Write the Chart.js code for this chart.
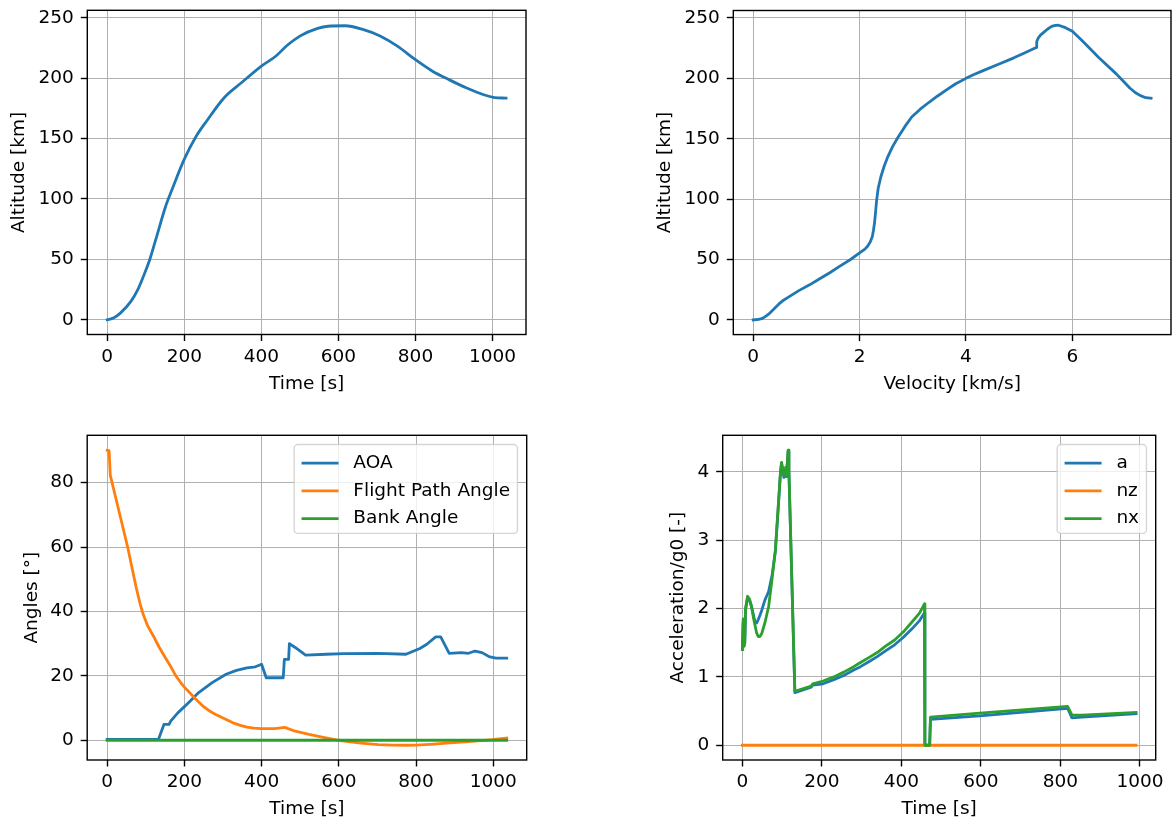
<!DOCTYPE html>
<html>
<head>
<meta charset="utf-8">
<script src="https://cdn.jsdelivr.net/npm/chart.js@4.4.1/dist/chart.umd.min.js"></script>
<style>
html,body{margin:0;padding:0;background:#fff;width:1172px;height:820px;overflow:hidden;}
.box{position:absolute;}
canvas{display:block;}
</style>
</head>
<body>
<div class="box" style="left:0px;top:0px"><canvas id="c1" width="560" height="410"></canvas></div>
<div class="box" style="left:620px;top:0px"><canvas id="c2" width="552" height="410"></canvas></div>
<div class="box" style="left:0px;top:410px"><canvas id="c3" width="560" height="410"></canvas></div>
<div class="box" style="left:620px;top:410px"><canvas id="c4" width="552" height="410"></canvas></div>
<script>
// ---------- data ----------
const timeAlt = [0, 16, 34, 61, 79, 97, 110, 128, 151, 169, 200, 232, 259, 304, 349, 400, 438, 465, 501, 546, 573, 618, 663, 708, 753, 798, 843, 888, 933, 977, 1005, 1035];
const altTime = [0, 1.4, 5.5, 15, 24.7, 38.5, 49.5, 68.7, 93.4, 108.5, 133, 152.5, 165, 184, 196.4, 210, 218.4, 226.6, 235, 241.2, 243, 243.4, 240.4, 235, 226.6, 215.7, 206, 198.6, 191.8, 186.3, 184, 183.5];

const velocity = [0, 0.08, 0.16, 0.22, 0.29, 0.38, 0.48, 0.57, 0.67, 0.85, 1.06, 1.25, 1.44, 1.63, 1.83, 2.0, 2.1, 2.15, 2.2, 2.24, 2.26, 2.28, 2.30, 2.32, 2.35, 2.40, 2.46, 2.53, 2.62, 2.72, 2.85, 2.98, 3.14, 3.30, 3.46, 3.62, 3.8, 4.0, 4.15, 4.3, 4.6, 4.9, 5.1, 5.32, 5.33, 5.36, 5.40, 5.45, 5.53, 5.61, 5.68, 5.74, 5.87, 6.0, 6.19, 6.5, 6.83, 6.95, 7.08, 7.18, 7.28, 7.38, 7.48];
const altVel = [0, 0.3, 1, 2.5, 4.7, 8.5, 13, 16.3, 19, 24, 29, 34, 39, 44.5, 50, 55.4, 58.6, 61, 64.5, 69, 74, 80, 89, 99, 109, 118.5, 127, 135, 143.5, 151, 160, 168, 174.5, 180, 185.2, 190, 195.3, 200, 203.2, 206, 211.5, 217, 221, 225.5, 230.5, 233.5, 235.8, 237.7, 240.7, 243, 243.9, 244, 242, 239, 231, 217, 203.5, 198, 192, 188.3, 185.7, 184, 183.5];

const tAoa = [0, 133, 147, 160, 165, 183, 210, 237, 272, 308, 335, 362, 384, 400, 412, 456, 459, 470, 472, 487, 514, 568, 613, 703, 774, 810, 828, 851, 864, 886, 918, 936, 953, 971, 989, 1007, 1035];
const aoa = [0.3, 0.3, 4.9, 4.9, 6.0, 8.5, 11.6, 14.8, 17.9, 20.5, 21.7, 22.5, 22.8, 23.6, 19.4, 19.4, 25.1, 25.1, 30.0, 28.8, 26.4, 26.7, 26.9, 27.0, 26.7, 28.5, 29.8, 32.1, 32.1, 27.0, 27.2, 27.0, 27.7, 27.2, 26.0, 25.5, 25.5];

const tFpa = [0, 5, 8, 30, 53, 75, 85, 93, 105, 120, 135, 150, 165, 178, 190, 200, 212, 223, 237, 250, 265, 281, 300, 326, 345, 362, 380, 398, 434, 460, 487, 523, 560, 600, 630, 658, 702, 740, 774, 800, 837, 880, 927, 960, 998, 1035];
const fpa = [90, 89.9, 82.3, 71.4, 60, 47.5, 42.5, 39.2, 35.5, 32.3, 28.8, 25.8, 22.8, 20, 18.0, 16.5, 15.0, 13.6, 11.9, 10.4, 9.1, 8.0, 6.9, 5.4, 4.6, 4.05, 3.75, 3.6, 3.6, 4.0, 2.8, 1.8, 0.9, 0, -0.5, -0.9, -1.35, -1.5, -1.55, -1.5, -1.25, -0.9, -0.5, -0.2, 0.2, 0.7];

const tBank = [0, 1035];
const bank = [0, 0];

const tAcc = [0, 2, 4, 6, 8, 13, 18, 23, 28, 32, 36, 40, 44, 49, 57, 66, 75, 83, 90, 96, 98.5, 104.5, 109, 111, 115, 117, 132, 173, 177, 203, 230, 255, 280, 297, 320, 340, 360, 383, 405, 426, 445, 458, 459, 471, 473, 597, 818, 829, 854, 990];
const accA = [1.40, 1.80, 1.45, 1.50, 1.98, 2.16, 2.12, 2.03, 1.90, 1.80, 1.79, 1.84, 1.90, 1.98, 2.13, 2.25, 2.50, 2.84, 3.45, 4.00, 4.12, 3.92, 4.05, 3.93, 4.30, 4.00, 0.77, 0.85, 0.88, 0.90, 0.96, 1.02, 1.10, 1.15, 1.23, 1.30, 1.38, 1.47, 1.58, 1.70, 1.82, 1.94, 0, 0, 0.38, 0.43, 0.54, 0.40, 0.41, 0.46];
const accNx = [1.40, 1.85, 1.45, 1.50, 2.00, 2.18, 2.14, 2.03, 1.86, 1.75, 1.64, 1.59, 1.59, 1.64, 1.80, 2.03, 2.45, 2.86, 3.49, 4.02, 4.14, 3.95, 4.07, 3.95, 4.32, 4.02, 0.79, 0.865, 0.90, 0.94, 1.00, 1.07, 1.15, 1.21, 1.29, 1.36, 1.45, 1.54, 1.66, 1.80, 1.93, 2.07, 0, 0, 0.41, 0.47, 0.57, 0.44, 0.44, 0.48];
const tNz = [0, 990];
const accNz = [0, 0];

const timeTicks = [0, 200, 400, 600, 800, 1000];
const velTicks = [0, 2, 4, 6];
const altTicks = [0, 50, 100, 150, 200, 250];
const angleTicks = [0, 20, 40, 60, 80];
const accTicks = [0, 1, 2, 3, 4];

// ---------- style ----------
const C0 = '#1f77b4', C1 = '#ff7f0e', C2 = '#2ca02c';
const FONT = 'DejaVu Sans';
const FS = 18.5;
const LW = 2.8;

function pts(xs, ys) { return xs.map((x, i) => ({ x: x, y: ys[i] })); }
function ds(label, xs, ys, color, order, smooth) {
  const d = { label: label, data: pts(xs, ys), borderColor: color, backgroundColor: color,
    borderWidth: LW, pointRadius: 0, pointHoverRadius: 0, tension: 0, fill: false,
    borderCapStyle: 'square', borderJoinStyle: 'round', order: order };
  if (smooth) d.cubicInterpolationMode = 'monotone';
  return d;
}

const framePlugin = {
  id: 'frame',
  afterDatasetsDraw(chart) {
    const a = chart.chartArea, ctx = chart.ctx;
    ctx.save();
    ctx.strokeStyle = '#000';
    ctx.lineWidth = 1.4;
    ctx.strokeRect(a.left, a.top, a.right - a.left, a.bottom - a.top);
    ctx.restore();
  }
};

const insetLegend = {
  id: 'insetLegend',
  afterDatasetsDraw(chart, args, opts) {
    if (!opts || !opts.show) return;
    const a = chart.chartArea, ctx = chart.ctx;
    ctx.save();
    ctx.font = FS + 'px "' + FONT + '"';
    const items = chart.data.datasets.map(d => ({ label: d.label, color: d.borderColor }));
    const textW = Math.max(...items.map(i => ctx.measureText(i.label).width));
    const pad = 0.4 * FS, handle = 2 * FS, htp = 0.8 * FS, rowH = 1.5 * FS;
    const w = pad + handle + htp + textW + pad;
    const h = 2 * pad + rowH * items.length - 0.5 * FS;
    const x = a.right - 0.5 * FS - w;
    const y = a.top + 0.5 * FS;
    const r = 0.2 * FS;
    ctx.beginPath();
    ctx.moveTo(x + r, y);
    ctx.lineTo(x + w - r, y);
    ctx.arcTo(x + w, y, x + w, y + r, r);
    ctx.lineTo(x + w, y + h - r);
    ctx.arcTo(x + w, y + h, x + w - r, y + h, r);
    ctx.lineTo(x + r, y + h);
    ctx.arcTo(x, y + h, x, y + h - r, r);
    ctx.lineTo(x, y + r);
    ctx.arcTo(x, y, x + r, y, r);
    ctx.closePath();
    ctx.fillStyle = 'rgba(255,255,255,0.8)';
    ctx.fill();
    ctx.strokeStyle = 'rgba(204,204,204,0.8)';
    ctx.lineWidth = 1.4;
    ctx.stroke();
    items.forEach((it, i) => {
      const cy = y + pad + 0.6 * FS + i * rowH;
      ctx.beginPath();
      ctx.strokeStyle = it.color;
      ctx.lineWidth = LW;
      ctx.lineCap = 'square';
      ctx.moveTo(x + pad + 1.4, cy);
      ctx.lineTo(x + pad + handle - 1.4, cy);
      ctx.stroke();
      ctx.fillStyle = '#000';
      ctx.textAlign = 'left';
      ctx.textBaseline = 'middle';
      ctx.fillText(it.label, x + pad + handle + htp, cy);
    });
    ctx.restore();
  }
};

function axisCommon(ticksArr, min, max, titleText) {
  return {
    type: 'linear', min: min, max: max,
    afterBuildTicks: s => { s.ticks = ticksArr.map(v => ({ value: v })); },
    grid: { color: '#b0b0b0', lineWidth: 1, tickColor: '#000', tickLength: 6.5, tickWidth: 1.4, drawTicks: true, drawOnChartArea: true },
    border: { display: false },
    ticks: { color: '#000', font: { family: FONT, size: FS }, autoSkip: false, maxRotation: 0, minRotation: 0,
      callback: v => String(v) },
    title: { display: true, text: titleText, color: '#000', font: { family: FONT, size: FS } }
  };
}

function makeChart(id, W, H, area, xr, yr, xt, yt, xTitle, yTitle, yTitleC, xTitleC, datasets, legend) {
  const lh = FS * 1.2;
  const x = axisCommon(xt, xr[0], xr[1], xTitle);
  x.ticks.padding = 4.6;
  x.title.padding = { top: 0, bottom: Math.max(0, H - lh / 2 - xTitleC) };
  x.afterFit = s => { s.height = H - area.B; s.paddingLeft = 0; s.paddingRight = 0; s.paddingTop = 0; s.paddingBottom = 0; };
  const y = axisCommon(yt, yr[0], yr[1], yTitle);
  y.ticks.padding = 7;
  y.title.padding = { top: yTitleC - lh / 2, bottom: 0 };
  y.afterFit = s => { s.width = area.L; s.paddingLeft = 0; s.paddingRight = 0; s.paddingTop = 0; s.paddingBottom = 0; };
  return new Chart(document.getElementById(id), {
    type: 'line',
    data: { datasets: datasets },
    options: {
      responsive: false, animation: false, events: [],
      layout: { autoPadding: false, padding: { left: 0, top: area.T, right: W - area.R, bottom: 0 } },
      scales: { x: x, y: y },
      plugins: { legend: { display: false }, tooltip: { enabled: false }, insetLegend: { show: legend } }
    },
    plugins: [insetLegend, framePlugin]
  });
}

// Top-left: altitude vs time
makeChart('c1', 560, 410, { L: 87.3, T: 10.3, R: 526, B: 334.5 },
  [-51.75, 1086.75], [-12.2, 256.2], timeTicks, altTicks,
  'Time [s]', 'Altitude [km]', 19.5, 384,
  [ds('Altitude', timeAlt, altTime, C0, 1, true)], false);

// Top-right: altitude vs velocity
makeChart('c2', 552, 410, { L: 113.3, T: 10.5, R: 551, B: 334.6 },
  [-0.374, 7.854], [-12.2, 256.2], velTicks, altTicks,
  'Velocity [km/s]', 'Altitude [km]', 45.5, 384,
  [ds('Altitude', velocity, altVel, C0, 1, false)], false);

// Bottom-left: angles
makeChart('c3', 560, 410, { L: 87.2, T: 25.3, R: 526.7, B: 350 },
  [-51.75, 1086.75], [-6.13, 94.68], timeTicks, angleTicks,
  'Time [s]', 'Angles [°]', 32, 399,
  [ds('AOA', tAoa, aoa, C0, 3, false), ds('Flight Path Angle', tFpa, fpa, C1, 2, false), ds('Bank Angle', tBank, bank, C2, 1, false)], true);

// Bottom-right: acceleration
makeChart('c4', 552, 410, { L: 102.7, T: 25.3, R: 535.7, B: 350 },
  [-49.5, 1039.5], [-0.216, 4.536], timeTicks, accTicks,
  'Time [s]', 'Acceleration/g0 [-]', 58.5, 399,
  [ds('a', tAcc, accA, C0, 3, false), ds('nz', tNz, accNz, C1, 2, false), ds('nx', tAcc, accNx, C2, 1, false)], true);
</script>
</body>
</html>
